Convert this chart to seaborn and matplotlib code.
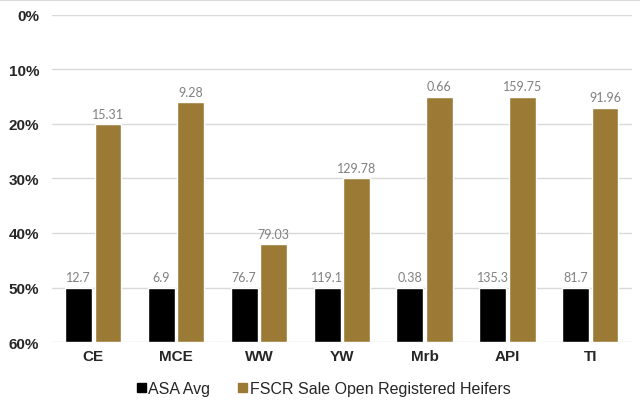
import pandas as pd
import numpy as np
import matplotlib.pyplot as plt
import seaborn as sns
from matplotlib.ticker import FuncFormatter

traits = ['CE', 'MCE', 'WW', 'YW', 'Mrb', 'API', 'TI']
series = ['ASA Avg', 'FSCR Sale Open Registered Heifers']
# percentile rank (top %), lower is better
asa_pct = [50, 50, 50, 50, 50, 50, 50]
fscr_pct = [20, 16, 42, 30, 15, 15, 17]
# EPD values shown above bars
asa_epd = ['12.7', '6.9', '76.7', '119.1', '0.38', '135.3', '81.7']
fscr_epd = ['15.31', '9.28', '79.03', '129.78', '0.66', '159.75', '91.96']
floor = 60

df = pd.DataFrame({
    'trait': traits * 2,
    'series': [series[0]] * len(traits) + [series[1]] * len(traits),
    'pct': asa_pct + fscr_pct,
})
# bars grow up from the 60% floor
df['height'] = floor - df['pct']

sns.set_style('white')
fig = plt.figure(figsize=(6.4, 4.06), dpi=100)
ax = fig.add_axes([0.081, 0.155, 0.906, 0.806])

colors = ['#000000', '#9B7A36']
sns.barplot(data=df, x='trait', y='height', hue='series', palette=colors,
            width=0.71, gap=0.085, saturation=1, ax=ax, legend=False)

for cont, labs in zip(ax.containers, [asa_epd, fscr_epd]):
    ax.bar_label(cont, labels=labs, padding=3, color='#808080',
                 fontsize=9, family='Lato')

ax.set_ylim(0, floor)
ax.set_yticks(np.arange(0, floor + 1, 10))
ax.yaxis.set_major_formatter(FuncFormatter(lambda t, p: f'{floor - t:.0f}%'))
ax.grid(axis='y', color='#d9d9d9', linewidth=1)
ax.set_axisbelow(True)
for s in ax.spines.values():
    s.set_visible(False)
ax.set_xlabel('')
ax.set_ylabel('')
ax.tick_params(axis='both', length=0, labelsize=11)
ax.tick_params(axis='y', pad=9)
ax.tick_params(axis='x', pad=5)
for lab in ax.get_xticklabels() + ax.get_yticklabels():
    lab.set_fontweight('bold')
    lab.set_family('Liberation Sans')

handles = [plt.Rectangle((0, 0), 1, 1, color=c) for c in colors]
ax.legend(handles, series, loc='upper center', bbox_to_anchor=(0.469, -0.075),
          ncol=2, frameon=False, handlelength=0.55, handleheight=0.55,
          handletextpad=0.18, columnspacing=1.75,
          prop={'family': 'Liberation Sans', 'size': 11.5})

# faint chart border line along the top edge
fig.add_artist(plt.Line2D([0, 1], [0.998, 0.998], color='#d9d9d9', linewidth=1.5))

fig.savefig('out.png', dpi=100)
